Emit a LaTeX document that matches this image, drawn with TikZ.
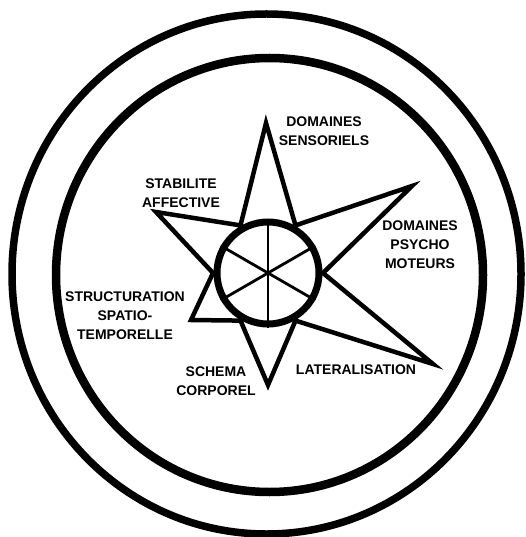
\documentclass[tikz,border=0pt]{standalone}
\usepackage{fontspec}
\setmainfont{Liberation Sans}
\usetikzlibrary{backgrounds}

\begin{document}
\begin{tikzpicture}[x=1pt, y=-1pt,
    show background rectangle, inner frame sep=0pt,
    background rectangle/.style={fill=white},
    lbl/.style={font=\bfseries\fontsize{14}{19}\selectfont,align=center,inner sep=0pt},
    ring/.style={draw=black,line width=7.5pt},
    starline/.style={draw=black,line width=4.5pt,line join=miter},
    hub/.style={circle,draw=black,fill=white,line width=7pt,minimum size=102pt,inner sep=0pt},
    spoke/.style={black,line width=2.8pt}]
  \useasboundingbox (0,0) rectangle (525,537);

  % the two rings
  \draw[ring] (266.5,274) ellipse [x radius=254.5, y radius=260];
  \draw[ring,line width=8.5pt] (269.5,275) ellipse [x radius=213.5, y radius=217];

  % star: tips and inner corners
  \coordinate (tT)  at (266,123);
  \coordinate (tUR) at (412,186);
  \coordinate (tLR) at (433,364);
  \coordinate (tB)  at (268,385);
  \coordinate (tLL) at (191,320);
  \coordinate (tUL) at (156,212);
  \coordinate (k0)   at (323,273);
  \coordinate (k60)  at (295.5,225.4);
  \coordinate (k120) at (240.5,225.4);
  \coordinate (k180) at (213,273);
  \coordinate (k240) at (240.5,320.6);
  \coordinate (k300) at (295.5,320.6);
  \draw[starline] (tT) -- (k60) -- (tUR) -- (k0) -- (tLR) -- (k300) -- (tB)
    -- (k240) -- (tLL) -- (k180) -- (tUL) -- (k120) -- cycle;

  % hub with six spokes
  \node[hub] (hub) at (268,273) {};
  \foreach \a in {30,90,...,330}
    \draw[spoke] (hub.center) -- (hub.\a);

  \node[lbl] (sens)   at (324,131.5) {DOMAINES\\SENSORIELS};
  \node[lbl] (stab)   at (181,193)   {STABILITE\\AFFECTIVE};
  \node[lbl] (psy)    at (420,245)   {DOMAINES\\PSYCHO\\MOTEURS};
  \node[lbl] (struct) at (125,316)   {STRUCTURATION\\SPATIO-\\TEMPORELLE};
  \node[lbl] (schema) at (216,381)   {SCHEMA\\CORPOREL};
  \node[lbl] (lat)    at (356,370)   {LATERALISATION};
\end{tikzpicture}
\end{document}
